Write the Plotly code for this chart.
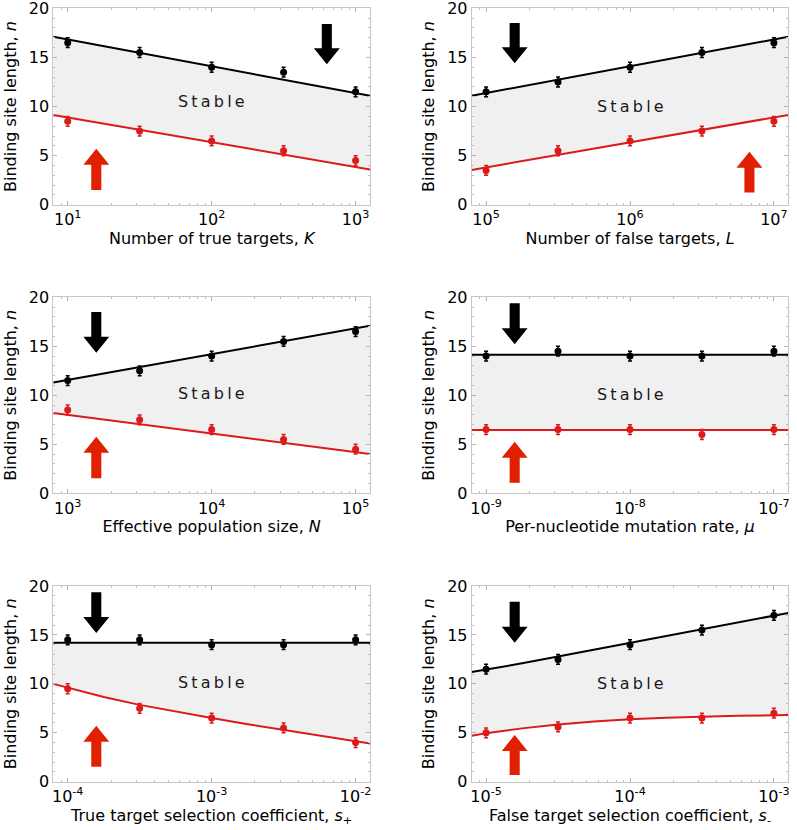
import math
import plotly.graph_objects as go

FONT = "DejaVu Sans"
BLACK = "#000000"
RED = "#dc1a1a"
ARROW_RED = "#e02000"
FILL = "#f0f0f0"

# ---------------- data ----------------
# Panel A: number of true targets K
K_x = [10, 31.6, 100, 316, 1000]
K_upper = [16.5, 15.5, 14.0, 13.5, 11.5]
K_lower = [8.5, 7.5, 6.5, 5.5, 4.5]
K_err_up = [0.5, 0.5, 0.5, 0.5, 0.5]
K_err_lo = [0.5, 0.5, 0.5, 0.5, 0.5]
K_theory_x = [7.94, 1259]
K_theory_upper = [17.1, 11.1]
K_theory_lower = [9.15, 3.6]
K_ticks = [10, 100, 1000]
K_ticktext = ["10<sup>1</sup>", "10<sup>2</sup>", "10<sup>3</sup>"]

# Panel B: number of false targets L
L_x = [1e5, 3.16e5, 1e6, 3.16e6, 1e7]
L_upper = [11.5, 12.5, 14.0, 15.5, 16.5]
L_lower = [3.5, 5.5, 6.5, 7.5, 8.5]
L_err_up = [0.5, 0.5, 0.5, 0.5, 0.5]
L_err_lo = [0.5, 0.5, 0.5, 0.5, 0.5]
L_theory_x = [7.94e4, 1.259e7]
L_theory_upper = [11.1, 17.1]
L_theory_lower = [3.55, 9.15]
L_ticks = [1e5, 1e6, 1e7]
L_ticktext = ["10<sup>5</sup>", "10<sup>6</sup>", "10<sup>7</sup>"]

# Panel C: effective population size N
N_x = [1e3, 3.16e3, 1e4, 3.16e4, 1e5]
N_upper = [11.5, 12.5, 14.0, 15.5, 16.5]
N_lower = [8.5, 7.5, 6.5, 5.5, 4.5]
N_err_up = [0.5, 0.5, 0.5, 0.5, 0.5]
N_err_lo = [0.5, 0.5, 0.5, 0.5, 0.5]
N_theory_x = [794, 1.259e5]
N_theory_upper = [11.3, 17.1]
N_theory_lower = [8.2, 4.0]
N_ticks = [1e3, 1e4, 1e5]
N_ticktext = ["10<sup>3</sup>", "10<sup>4</sup>", "10<sup>5</sup>"]

# Panel D: per-nucleotide mutation rate mu
MU_x = [1e-9, 3.16e-9, 1e-8, 3.16e-8, 1e-7]
MU_upper = [14.0, 14.5, 14.0, 14.0, 14.5]
MU_lower = [6.5, 6.5, 6.5, 6.0, 6.5]
MU_err_up = [0.5, 0.5, 0.5, 0.5, 0.5]
MU_err_lo = [0.5, 0.5, 0.5, 0.5, 0.5]
MU_theory_x = [7.94e-10, 1.259e-7]
MU_theory_upper = [14.15, 14.15]
MU_theory_lower = [6.45, 6.45]
MU_ticks = [1e-9, 1e-8, 1e-7]
MU_ticktext = ["10<sup>-9</sup>", "10<sup>-8</sup>", "10<sup>-7</sup>"]

# Panel E: true target selection coefficient s+
SP_x = [1e-4, 3.16e-4, 1e-3, 3.16e-3, 1e-2]
SP_upper = [14.5, 14.5, 14.0, 14.0, 14.5]
SP_lower = [9.5, 7.5, 6.5, 5.5, 4.0]
SP_err_up = [0.5, 0.5, 0.5, 0.5, 0.5]
SP_err_lo = [0.5, 0.5, 0.5, 0.5, 0.5]
SP_theory_x = [7.94e-5, 1e-4, 1.78e-4, 3.16e-4, 5.62e-4, 1e-3, 1.78e-3,
               3.16e-3, 5.62e-3, 1e-2, 1.259e-2]
SP_theory_upper = [14.2, 14.2, 14.2, 14.2, 14.2, 14.2, 14.2, 14.2, 14.2, 14.2, 14.2]
SP_theory_lower = [10.0, 9.6, 8.65, 7.85, 7.15, 6.5, 5.88, 5.28, 4.7, 4.12, 3.9]
SP_ticks = [1e-4, 1e-3, 1e-2]
SP_ticktext = ["10<sup>-4</sup>", "10<sup>-3</sup>", "10<sup>-2</sup>"]

# Panel F: false target selection coefficient s-
SM_x = [1e-5, 3.16e-5, 1e-4, 3.16e-4, 1e-3]
SM_upper = [11.5, 12.5, 14.0, 15.5, 17.0]
SM_lower = [5.0, 5.6, 6.5, 6.5, 7.0]
SM_err_up = [0.5, 0.5, 0.5, 0.5, 0.5]
SM_err_lo = [0.5, 0.5, 0.5, 0.5, 0.5]
SM_theory_x = [7.94e-6, 1e-5, 1.78e-5, 3.16e-5, 5.62e-5, 1e-4, 1.78e-4,
               3.16e-4, 5.62e-4, 1e-3, 1.259e-3]
SM_theory_upper = [11.2, 11.45, 12.1, 12.8, 13.5, 14.2, 14.9, 15.6, 16.3, 17.0, 17.25]
SM_theory_lower = [4.70, 4.95, 5.45, 5.85, 6.15, 6.38, 6.53, 6.65, 6.73, 6.79, 6.81]
SM_ticks = [1e-5, 1e-4, 1e-3]
SM_ticktext = ["10<sup>-5</sup>", "10<sup>-4</sup>", "10<sup>-3</sup>"]

X_TITLES = [
    "Number of true targets, <i>K</i>",
    "Number of false targets, <i>L</i>",
    "Effective population size, <i>N</i>",
    "Per-nucleotide mutation rate, <i>μ</i>",
    "True target selection coefficient, <i>s</i><sub>+</sub>",
    "False target selection coefficient, <i>s</i><sub>-</sub>",
]
Y_TITLE = "Binding site length, <i>n</i>"
STABLE_LABEL = "S\u2009t\u2009a\u2009b\u2009l\u2009e"
STABLE_Y = [10.5, 10.05, 10.2, 10.05, 10.1, 10.05]

# arrow specs: (x position, tail y, tip y)
BLACK_ARROWS = [(631, 18.4, 14.3), (1.58e5, 18.5, 14.4), (1.58e3, 18.5, 14.35),
                (1.58e-9, 19.4, 15.2), (1.58e-4, 19.35, 15.2), (1.58e-5, 18.4, 14.2)]
RED_ARROWS = [(15.8, 1.5, 5.7), (6.76e6, 1.25, 5.4), (1.58e3, 1.53, 5.78),
              (1.58e-9, 1.08, 5.27), (1.58e-4, 1.53, 5.72), (1.58e-5, 0.68, 4.77)]

panels = [
    (K_x, K_upper, K_lower, K_err_up, K_err_lo, K_theory_x, K_theory_upper, K_theory_lower, K_ticks, K_ticktext),
    (L_x, L_upper, L_lower, L_err_up, L_err_lo, L_theory_x, L_theory_upper, L_theory_lower, L_ticks, L_ticktext),
    (N_x, N_upper, N_lower, N_err_up, N_err_lo, N_theory_x, N_theory_upper, N_theory_lower, N_ticks, N_ticktext),
    (MU_x, MU_upper, MU_lower, MU_err_up, MU_err_lo, MU_theory_x, MU_theory_upper, MU_theory_lower, MU_ticks, MU_ticktext),
    (SP_x, SP_upper, SP_lower, SP_err_up, SP_err_lo, SP_theory_x, SP_theory_upper, SP_theory_lower, SP_ticks, SP_ticktext),
    (SM_x, SM_upper, SM_lower, SM_err_up, SM_err_lo, SM_theory_x, SM_theory_upper, SM_theory_lower, SM_ticks, SM_ticktext),
]

# ---------------- layout geometry (window pixels) ----------------
W, H = 797, 830
COL_X = [(53.3, 370.0), (471.7, 788.3)]
ROW_Y = [(8.3, 204.8), (297.3, 493.3), (586.0, 781.7)]

fig = go.Figure()

SHAFT_HALF = 0.035   # decades
HEAD_HALF = 0.09     # decades
HEAD_LEN = 1.63      # y units


def arrow_polygon(xpos, tail, tip):
    c = math.log10(xpos)
    d = 1 if tip > tail else -1
    base = tip - d * HEAD_LEN
    lx = [c - SHAFT_HALF, c + SHAFT_HALF, c + SHAFT_HALF, c + HEAD_HALF, c,
          c - HEAD_HALF, c - SHAFT_HALF, c - SHAFT_HALF]
    ly = [tail, tail, base, base, tip, base, base, tail]
    return [10 ** v for v in lx], ly


layout = dict(
    width=W, height=H,
    margin=dict(l=0, r=0, t=0, b=0),
    paper_bgcolor="white", plot_bgcolor="white",
    showlegend=False,
    font=dict(family=FONT, size=16, color="black"),
    annotations=[],
)

for i, (xv, up, lo, eu, el, tx, tu, tl, tv, tt) in enumerate(panels):
    n = i + 1
    xa = "x" if n == 1 else f"x{n}"
    ya = "y" if n == 1 else f"y{n}"
    row, col = i // 2, i % 2
    lo_dec = round(math.log10(tv[0]))
    hi_dec = round(math.log10(tv[-1]))
    xr = [lo_dec - 0.1, hi_dec + 0.1]

    # shaded stable region
    fig.add_trace(go.Scatter(
        x=list(tx) + list(tx)[::-1], y=list(tu) + list(tl)[::-1],
        fill="toself", fillcolor=FILL, line=dict(width=0), mode="lines",
        hoverinfo="skip", xaxis=xa, yaxis=ya))

    # arrows
    bx, by = arrow_polygon(*BLACK_ARROWS[i])
    fig.add_trace(go.Scatter(x=bx, y=by, fill="toself", fillcolor=BLACK,
                             line=dict(width=0, color=BLACK), mode="lines",
                             hoverinfo="skip", xaxis=xa, yaxis=ya))
    rx, ry = arrow_polygon(*RED_ARROWS[i])
    fig.add_trace(go.Scatter(x=rx, y=ry, fill="toself", fillcolor=ARROW_RED,
                             line=dict(width=0, color=ARROW_RED), mode="lines",
                             hoverinfo="skip", xaxis=xa, yaxis=ya))

    # theory lines
    fig.add_trace(go.Scatter(x=tx, y=tu, mode="lines", line=dict(color=BLACK, width=2),
                             xaxis=xa, yaxis=ya))
    fig.add_trace(go.Scatter(x=tx, y=tl, mode="lines", line=dict(color=RED, width=2),
                             xaxis=xa, yaxis=ya))

    # simulation points
    fig.add_trace(go.Scatter(x=xv, y=up, mode="markers",
                             marker=dict(color=BLACK, size=7),
                             error_y=dict(type="data", array=eu, color=BLACK, thickness=1.5, width=2),
                             xaxis=xa, yaxis=ya))
    fig.add_trace(go.Scatter(x=xv, y=lo, mode="markers",
                             marker=dict(color=RED, size=7),
                             error_y=dict(type="data", array=el, color=RED, thickness=1.5, width=2),
                             xaxis=xa, yaxis=ya))

    x0, x1 = COL_X[col]
    y0, y1 = ROW_Y[row]
    minor_vals = [m * 10 ** d for d in range(lo_dec - 1, hi_dec + 1) for m in range(2, 10)]

    common = dict(
        showline=True, linecolor="#c6c6c6", linewidth=1, mirror="allticks",
        ticks="inside", ticklen=4, tickcolor="#b4b4b4", tickwidth=1,
        showgrid=False, zeroline=False, ticklabeloverflow="allow", automargin=False,
        tickfont=dict(family=FONT, size=16, color="black"),
    )
    layout["xaxis" if n == 1 else f"xaxis{n}"] = dict(
        common, type="log", range=xr,
        domain=[x0 / W, x1 / W],
        anchor=ya, tickmode="array", tickvals=tv, ticktext=tt,
        minor=dict(tickmode="array", tickvals=minor_vals, ticks="inside",
                   ticklen=2, tickcolor="#c0c0c0", showgrid=False),
        title=dict(text=X_TITLES[i], font=dict(family=FONT, size=16, color="black"), standoff=3),
    )
    layout["yaxis" if n == 1 else f"yaxis{n}"] = dict(
        common, range=[0, 20], tickmode="array", tickvals=[0, 5, 10, 15, 20],
        domain=[1 - y1 / H, 1 - y0 / H], anchor=xa,
        minor=dict(dtick=1, ticks="inside", ticklen=2, tickcolor="#c0c0c0", showgrid=False),
        title=dict(text=Y_TITLE, font=dict(family=FONT, size=16, color="black"), standoff=8),
    )
    layout["annotations"].append(dict(
        x=(lo_dec + hi_dec) / 2, y=STABLE_Y[i], xref=xa, yref=ya, text=STABLE_LABEL,
        showarrow=False, font=dict(family=FONT, size=16, color="#1a1a1a"),
        xanchor="center", yanchor="middle"))

fig.update_layout(**layout)
# remove the default 8px body margin so the figure fills the window exactly
fig.write_html("out.html",
               config={"displayModeBar": False},
               post_script="document.body.style.margin='0';document.body.style.overflow='hidden';")
